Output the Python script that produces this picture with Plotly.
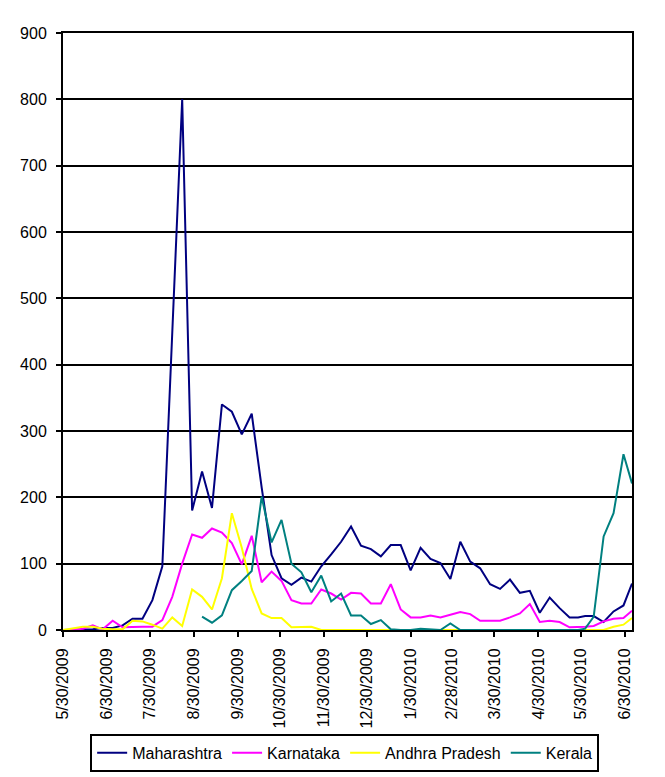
import pandas as pd
import plotly.graph_objects as go

# weekly reporting dates, the last few came in a bit irregular
weeks = list(pd.date_range("2009-05-30", periods=52, freq="7D").strftime("%Y-%m-%d"))
tail_dates = ["2010-05-28", "2010-06-02", "2010-06-08", "2010-06-15",
              "2010-06-22", "2010-06-29", "2010-07-05"]
dates = weeks + tail_dates

maharashtra = [0, 0, 0, 1, 3, 3, 7, 17, 17, 45, 96, 450, 800,
               180, 239, 184, 340, 329, 295, 326, 215, 113, 78, 68, 79, 73,
               96, 114, 133, 156, 127, 122, 111, 128, 128, 90, 124, 107, 101,
               77, 133, 103, 93, 69, 62, 76, 56, 59, 26, 49, 33, 19,
               19, 21, 21, 12, 28, 37, 70]
karnataka = [0, 0, 2, 7, 1, 14, 4, 5, 5, 5, 15, 50, 100,
             144, 139, 153, 147, 131, 99, 142, 72, 88, 74, 45, 40, 40,
             61, 55, 46, 56, 55, 40, 40, 69, 31, 19, 19, 22, 19,
             23, 27, 24, 14, 14, 14, 19, 25, 39, 12, 14, 12, 4,
             4, 5, 6, 13, 17, 18, 29]
andhra = [0, 2, 5, 5, 2, 1, 1, 14, 13, 8, 2, 19, 6,
          61, 50, 31, 78, 176, 124, 62, 25, 18, 18, 4, 4, 5,
          0, 0, 0, 0, 0, 0, 0, 0, 0, 0, 0, 0, 0,
          0, 0, 0, 0, 0, 0, 0, 0, 0, 0, 0, 0, 0,
          0, 0, 0, 0, 5, 8, 18]
kerala = [None] * 14 + [20, 11, 22, 60, 74, 89, 201, 132, 166, 100, 87, 57,
          82, 43, 55, 22, 22, 9, 15, 1, 0, 0, 2, 1, 0,
          10, 0, 0, 0, 0, 0, 0, 0, 0, 0, 0, 0, 0,
          0, 2, 20, 141, 176, 265, 221]

tick_dates = ["2009-05-30", "2009-06-30", "2009-07-30", "2009-08-30", "2009-09-30",
              "2009-10-30", "2009-11-30", "2009-12-30", "2010-01-30", "2010-02-28",
              "2010-03-30", "2010-04-30", "2010-05-30", "2010-06-30"]
tick_text = ["5/30/2009", "6/30/2009", "7/30/2009", "8/30/2009", "9/30/2009",
             "10/30/2009", "11/30/2009", "12/30/2009", "1/30/2010", "2/28/2010",
             "3/30/2010", "4/30/2010", "5/30/2010", "6/30/2010"]

series = [("Maharashtra", maharashtra, "#000080"),
          ("Karnataka", karnataka, "#FF00FF"),
          ("Andhra Pradesh", andhra, "#FFFF00"),
          ("Kerala", kerala, "#008080")]

fig = go.Figure()
for name, vals, col in series:
    fig.add_trace(go.Scatter(x=dates, y=vals, name=name, mode="lines",
                             line=dict(color=col, width=2)))

# the page puts the figure 8px in from the top left, margins allow for it
fig.update_layout(
    width=665, height=777,
    margin=dict(l=52, r=41, t=25, b=155),
    paper_bgcolor="white", plot_bgcolor="white",
    font=dict(family="Arial, Liberation Sans", size=16, color="black"),
    showlegend=True,
    legend=dict(orientation="h", x=0.495, xanchor="center", y=-0.174, yanchor="top",
                bordercolor="black", borderwidth=2, font=dict(size=16),
                itemwidth=30),
)
fig.update_xaxes(type="date", range=["2009-05-30", "2010-07-05"],
                 tickvals=tick_dates, ticktext=tick_text, tickangle=-90,
                 showgrid=False, showline=True, linecolor="black", linewidth=2,
                 mirror=True, ticks="outside", ticklen=5, tickwidth=2,
                 tickcolor="black", ticklabelstandoff=5)
fig.update_yaxes(range=[0, 900], dtick=100, showgrid=True, gridcolor="black",
                 gridwidth=2, zeroline=False, showline=True, linecolor="black",
                 linewidth=2, mirror=True, ticks="outside", ticklen=5, tickwidth=2,
                 tickcolor="black", ticklabelstandoff=6)

fig.write_html("out.html")
